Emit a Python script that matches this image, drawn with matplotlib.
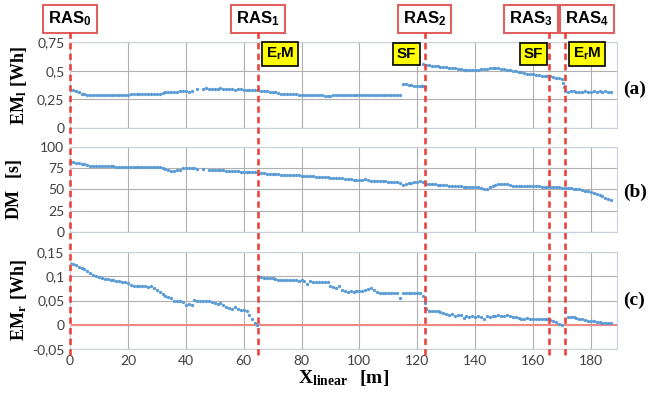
import numpy as np
import matplotlib
matplotlib.use("Agg")
import matplotlib.pyplot as plt
import matplotlib.transforms as mtransforms

plt.rcParams['mathtext.fontset'] = 'custom'
plt.rcParams['mathtext.rm'] = 'Liberation Serif:bold'
plt.rcParams['mathtext.sf'] = 'Liberation Sans:bold'

nan = np.nan

# EM_l [Wh], one value per metre from 0 to 187
em_l = [0.33, 0.33, 0.32, 0.31, 0.30, 0.30, 0.29, 0.29, 0.29, 0.29,
        0.29, 0.29, 0.29, 0.29, 0.29, 0.29, 0.29, 0.29, 0.29, 0.29,
        0.29, 0.295, 0.295, 0.30, 0.30, 0.30, 0.30, 0.30, 0.295, 0.30,
        0.30, 0.30, 0.305, 0.31, 0.31, 0.31, 0.31, 0.315, 0.32, 0.32,
        0.32, 0.31, 0.32, nan, 0.34, nan, 0.34, 0.345, 0.34, 0.34,
        0.34, 0.34, 0.345, 0.34, 0.34, 0.34, 0.34, 0.335, 0.34, 0.34,
        0.335, 0.335, 0.33, 0.335, 0.33, 0.33, 0.325, 0.32, 0.32, 0.315,
        0.31, 0.31, 0.305, 0.30, 0.30, 0.30, 0.30, 0.295, 0.295, 0.29,
        0.29, 0.29, 0.29, 0.285, 0.285, 0.285, 0.285, 0.285, 0.28, 0.28,
        0.28, 0.285, 0.285, 0.29, 0.29, 0.29, 0.285, 0.285, 0.29, 0.29,
        0.29, 0.285, 0.285, 0.285, 0.285, 0.285, 0.285, 0.285, 0.285, 0.285,
        0.285, 0.285, 0.29, 0.29, 0.29, 0.38, 0.38, 0.375, 0.375, 0.37,
        0.37, 0.365, 0.56, 0.55, 0.55, 0.545, 0.54, 0.54, 0.535, 0.53,
        0.53, 0.525, 0.52, 0.52, 0.515, 0.515, 0.51, 0.51, 0.51, 0.51,
        0.51, 0.51, 0.515, 0.515, 0.515, 0.52, 0.52, 0.52, 0.52, 0.515,
        0.515, 0.51, 0.505, 0.50, 0.495, 0.49, 0.485, 0.48, 0.475, 0.47,
        0.47, 0.465, 0.46, 0.455, 0.455, 0.45, 0.45, 0.445, 0.44, 0.435,
        0.43, 0.32, 0.31, 0.32, 0.32, 0.315, 0.315, 0.31, 0.32, 0.315,
        0.315, 0.32, 0.315, 0.32, 0.315, 0.32, 0.315, 0.31]
# extra EM_l points around the jumps
em_l_extra_x = [121.5, 122, 122.5, 170.3, 170.6]
em_l_extra_y = [0.365, 0.37, 0.36, 0.39, 0.36]

# DM [s]
dm = [82, 82, 81, 81, 80, 80, 79, 78, 78, 78,
      78, 78, 78, 78, 77.5, 77.5, 77, 77, 77, 77,
      77, 77, 77, 77, 77, 77, 77, 76.5, 76.5, 76,
      76, 76, 75, 74, 73, 72, 72, 72.5, 73, 75,
      75.5, 75.5, 75, 75, 74, nan, 74, nan, 73, 73,
      73, 72.5, 72.5, 72.5, 72, 72, 72, 71.5, 71.5, 71,
      71, 71, 70.5, 71, 71, 69, 69, 69, 68.5, 68.5,
      68, 68, 68, 67.5, 67.5, 67, 67, 67, 66.5, 66.5,
      66, 66, 66, 65.5, 65.5, 65, 65, 65, 64.5, 64.5,
      64, 64, 63.5, 63, 63, 62.5, 62, 62, 61.5, 61,
      61, 61.5, 62, 61, 60.5, 60, 60, 59.5, 59.5, 59.5,
      59, 59, 59, 59, 58, 55, 57, 58, 58, 58.5,
      59, 60, 59, 57, 56.5, 56, 56, 55.5, 55.5, 55,
      55, 54.5, 54.5, 54, 54.5, 54, 53.5, 53, 53.5, 53,
      53, 52.5, 52, 51, 51, 53, 54, 55, 56, 57,
      57, 56, 55, 54.5, 54.5, 54, 54, 54, 54, 54,
      54, 54, 54, 53.5, 53.5, 53.5, 53, 53, 53, 52.5,
      52, 52, 52, 51.5, 51, 50.5, 50, 49, 48.5, 48,
      47, 46, 45, 44, 42, 40, 39, 38]

# EM_r [Wh]
em_r = [0.128, 0.126, 0.123, 0.12, 0.117, 0.114, 0.11, 0.106, 0.103, 0.10,
        0.098, 0.096, 0.095, 0.094, 0.093, 0.092, 0.091, 0.090, 0.089, 0.088,
        0.087, 0.082, 0.08, 0.08, 0.079, 0.08, 0.079, 0.078, 0.08, 0.076,
        0.072, 0.068, 0.063, 0.060, 0.058, 0.055, 0.048, 0.05, 0.048, 0.047,
        0.04, 0.042, 0.04, 0.052, 0.05, 0.05, 0.05, 0.05, 0.048, 0.046,
        0.044, 0.043, 0.044, 0.04, 0.036, 0.035, 0.032, 0.037, 0.033, 0.03,
        0.03, 0.028, 0.02, 0.012, 0.003, 0.098, 0.098, 0.097, 0.097, 0.097,
        0.096, 0.095, 0.093, 0.092, 0.092, 0.092, 0.092, 0.092, 0.092, 0.091,
        0.092, 0.091, 0.085, 0.09, 0.089, 0.089, 0.089, 0.089, 0.089, 0.089,
        0.08, 0.078, 0.075, 0.08, 0.072, 0.07, 0.068, 0.07, 0.068, 0.069,
        0.07, 0.07, 0.071, 0.074, 0.075, 0.072, 0.068, 0.066, 0.066, 0.066,
        0.066, 0.066, 0.065, 0.066, 0.055, 0.066, 0.065, 0.066, 0.065, 0.066,
        0.066, 0.065, 0.06, 0.032, 0.029, 0.028, 0.029, 0.028, 0.027, 0.025,
        0.022, 0.02, 0.022, 0.018, 0.02, 0.021, 0.013, 0.018, 0.017, 0.018,
        0.016, 0.018, 0.017, 0.012, 0.018, 0.016, 0.019, 0.019, 0.02, 0.018,
        0.019, 0.021, 0.019, 0.017, 0.016, 0.014, 0.012, 0.012, 0.013, 0.012,
        0.011, 0.012, 0.011, 0.012, 0.012, 0.011, 0.01, 0.008, 0.006, 0.002,
        -0.001, 0.027, 0.016, 0.015, 0.015, 0.014, 0.012, 0.011, 0.009, 0.008,
        0.008, 0.007, 0.006, 0.005, 0.004, 0.004, 0.004, 0.004]
em_r_extra_x = [64.5, 122.5, 122.7]
em_r_extra_y = [0.0, 0.045, 0.035]

ras_x = [0, 65, 122.5, 165.5, 171]
ras_labels = [r"$\mathsf{RAS_0}$", r"$\mathsf{RAS_1}$", r"$\mathsf{RAS_2}$",
              r"$\mathsf{RAS_3}$", r"$\mathsf{RAS_4}$"]
ras_shift = [0, 0, 0, -13, 16]

event_x = [65, 122.5, 165.5, 171]
event_labels = [r"$\mathsf{E_rM}$", "SF", "SF", r"$\mathsf{E_rM}$"]
event_shift = [16, -13, -11, 16]

x = np.arange(len(em_l))
blue = '#5b9bd5'
red = '#e8453c'
tick_color = '#404040'

fig = plt.figure(figsize=(6.59, 3.94), dpi=100)
ax_a = fig.add_axes([0.1062, 0.6751, 0.830, 0.2183])
ax_b = fig.add_axes([0.1062, 0.4112, 0.830, 0.2157])
ax_c = fig.add_axes([0.1062, 0.1142, 0.830, 0.2462])

ax_a.plot(x, em_l, 'o', color=blue, ms=2.4, mew=0)
ax_a.plot(em_l_extra_x, em_l_extra_y, 'o', color=blue, ms=2.4, mew=0)
ax_b.plot(x, dm, 'o', color=blue, ms=2.4, mew=0)
ax_c.plot(x, em_r, 'o', color=blue, ms=2.4, mew=0)
ax_c.plot(em_r_extra_x, em_r_extra_y, 'o', color=blue, ms=2.4, mew=0)
ax_c.axhline(0, color='#f08a80', lw=1.5, zorder=1)

ax_a.set_ylim(0, 0.75)
ax_a.set_yticks([0, 0.25, 0.5, 0.75])
ax_a.set_yticklabels(['0', '0,25', '0,5', '0,75'])
ax_b.set_ylim(0, 100)
ax_b.set_yticks([0, 25, 50, 75, 100])
ax_c.set_ylim(-0.05, 0.15)
ax_c.set_yticks([-0.05, 0, 0.05, 0.1, 0.15])
ax_c.set_yticklabels(['-0,05', '0', '0,05', '0,1', '0,15'])

for ax in (ax_a, ax_b, ax_c):
    ax.set_xlim(0, 189)
    ax.set_xticks(range(0, 181, 20))
    ax.grid(True, color='#b0b0b0', lw=0.8)
    ax.set_axisbelow(True)
    ax.tick_params(length=0, labelsize=10, colors=tick_color, pad=4)
    for s in ax.spines.values():
        s.set_color('#c8d0dc')
        s.set_linewidth(0.8)
    for lab in ax.get_yticklabels() + ax.get_xticklabels():
        lab.set_family('Lato')
ax_a.tick_params(labelbottom=False)
ax_b.tick_params(labelbottom=False)

ax_a.set_ylabel(r"$\mathrm{EM_l\ [Wh]}$", fontsize=13, labelpad=6)
ax_b.set_ylabel(r"$\mathrm{DM\ \ [s]}$", fontsize=13, labelpad=12)
ax_c.set_ylabel(r"$\mathrm{EM_r\ [Wh]}$", fontsize=13, labelpad=2)
ax_c.set_xlabel(r"$\mathrm{X_{linear}\ \ [m]}$", fontsize=14, labelpad=1)

for ax, tag, ty in zip((ax_a, ax_b, ax_c), ['(a)', '(b)', '(c)'], [0.45, 0.47, 0.5]):
    ax.text(1.012, ty, tag, transform=ax.transAxes, ha='left', va='center',
            fontsize=14, fontweight='bold', family='Liberation Serif')

# dashed RAS lines spanning all panels
trans = mtransforms.blended_transform_factory(ax_c.transData, fig.transFigure)
for rx, lab, dx in zip(ras_x, ras_labels, ras_shift):
    fig.add_artist(plt.Line2D([rx, rx], [0.099, 0.919], transform=trans,
                              color=red, lw=1.9, dashes=(2.4, 1.6), zorder=5))
    ax_a.annotate(lab, xy=(rx, 0.952), xycoords=trans, xytext=(dx, 0),
                  textcoords='offset points', ha='center', va='center',
                  fontsize=12, annotation_clip=False,
                  bbox=dict(boxstyle='square,pad=0.3', fc='white',
                            ec='#e06060', lw=1.5))

for ex, lab, dx in zip(event_x, event_labels, event_shift):
    ax_a.annotate(lab, xy=(ex, 0.645), xytext=(dx, 0),
                  textcoords='offset points', ha='center', va='center',
                  fontsize=11, fontweight='bold', family='Liberation Sans',
                  annotation_clip=False, zorder=6,
                  bbox=dict(boxstyle='square,pad=0.25', fc='#ffff00',
                            ec='black', lw=1.2))

fig.savefig('out.png', dpi=100)
